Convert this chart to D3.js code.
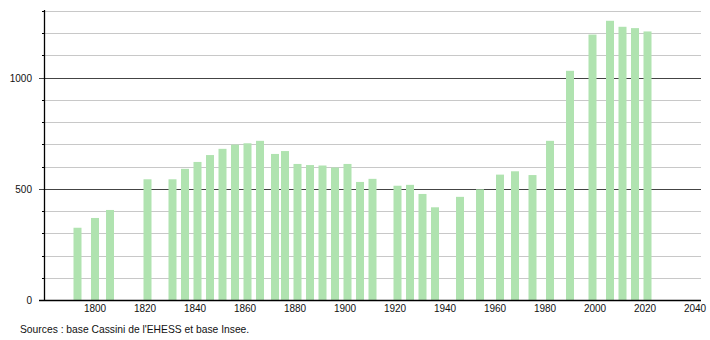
<!DOCTYPE html>
<html>
<head>
<meta charset="utf-8">
<script src="https://cdn.jsdelivr.net/npm/d3@7"></script>
<style>
  body { margin: 0; background: #fff; }
  svg text { font-family: "Liberation Sans", Arial, sans-serif; fill: #111; }
</style>
</head>
<body>
<svg id="chart" width="710" height="340"></svg>
<script>
// census years and population
const years = [1793, 1800, 1806, 1821, 1831, 1836, 1841, 1846, 1851, 1856, 1861, 1866,
  1872, 1876, 1881, 1886, 1891, 1896, 1901, 1906, 1911, 1921, 1926, 1931, 1936,
  1946, 1954, 1962, 1968, 1975, 1982, 1990, 1999, 2006, 2011, 2016, 2021];
const population = [325, 369, 405, 543, 543, 590, 621, 652, 680, 699, 705, 716,
  657, 670, 612, 607, 605, 596, 612, 531, 545, 514, 518, 477, 417,
  464, 498, 564, 579, 562, 716, 1031, 1194, 1256, 1229, 1223, 1208];
const xTicks = [1800, 1820, 1840, 1860, 1880, 1900, 1920, 1940, 1960, 1980, 2000, 2020, 2040];
const yMajor = [0, 500, 1000];
const yMinor = d3.range(100, 1400, 100).filter(v => v % 500 !== 0);
const source = "Sources : base Cassini de l'EHESS et base Insee.";

const svg = d3.select('#chart');

const x = d3.scaleLinear().domain([1779.6, 2042.4]).range([44, 701]);
const y = d3.scaleLinear().domain([0, 1300]).range([300, 11]);

// minor grid
svg.append('g')
  .selectAll('line')
  .data(yMinor)
  .join('line')
  .attr('x1', 42).attr('x2', 701)
  .attr('y1', d => Math.round(y(d)) + 0.5).attr('y2', d => Math.round(y(d)) + 0.5)
  .attr('stroke', '#c8c8c8');

// major grid
svg.append('g')
  .selectAll('line')
  .data(yMajor.filter(d => d > 0))
  .join('line')
  .attr('x1', 39).attr('x2', 701)
  .attr('y1', d => Math.round(y(d)) + 0.5).attr('y2', d => Math.round(y(d)) + 0.5)
  .attr('stroke', '#444');

// bars
const barW = 8;
svg.append('g')
  .selectAll('rect')
  .data(years.map((yr, i) => ({ yr, v: population[i] })))
  .join('rect')
  .attr('x', d => x(d.yr) - barW / 2)
  .attr('y', d => y(d.v))
  .attr('width', barW)
  .attr('height', d => y(0) - y(d.v))
  .attr('fill', '#b0e3b0');

// y axis
svg.append('line')
  .attr('x1', 44.5).attr('x2', 44.5)
  .attr('y1', 10).attr('y2', 300)
  .attr('stroke', '#000').attr('stroke-width', 1.3);

svg.append('g')
  .selectAll('line')
  .data(yMinor)
  .join('line')
  .attr('x1', 42).attr('x2', 44)
  .attr('y1', d => Math.round(y(d)) + 0.5).attr('y2', d => Math.round(y(d)) + 0.5)
  .attr('stroke', '#000');

svg.append('g')
  .selectAll('text')
  .data(yMajor)
  .join('text')
  .attr('x', 32)
  .attr('y', d => y(d) + 4)
  .attr('text-anchor', 'end')
  .attr('font-size', '10px')
  .text(d => d);

// x axis
svg.append('line')
  .attr('x1', 39).attr('x2', 701)
  .attr('y1', 300.5).attr('y2', 300.5)
  .attr('stroke', '#000').attr('stroke-width', 1.3);

svg.append('g')
  .selectAll('text')
  .data(xTicks)
  .join('text')
  .attr('x', d => x(d))
  .attr('y', 312)
  .attr('text-anchor', 'middle')
  .attr('font-size', '10px')
  .text(d => d);

svg.append('text')
  .attr('x', 20)
  .attr('y', 333)
  .attr('font-size', '10.3px')
  .text(source);
</script>
</body>
</html>
